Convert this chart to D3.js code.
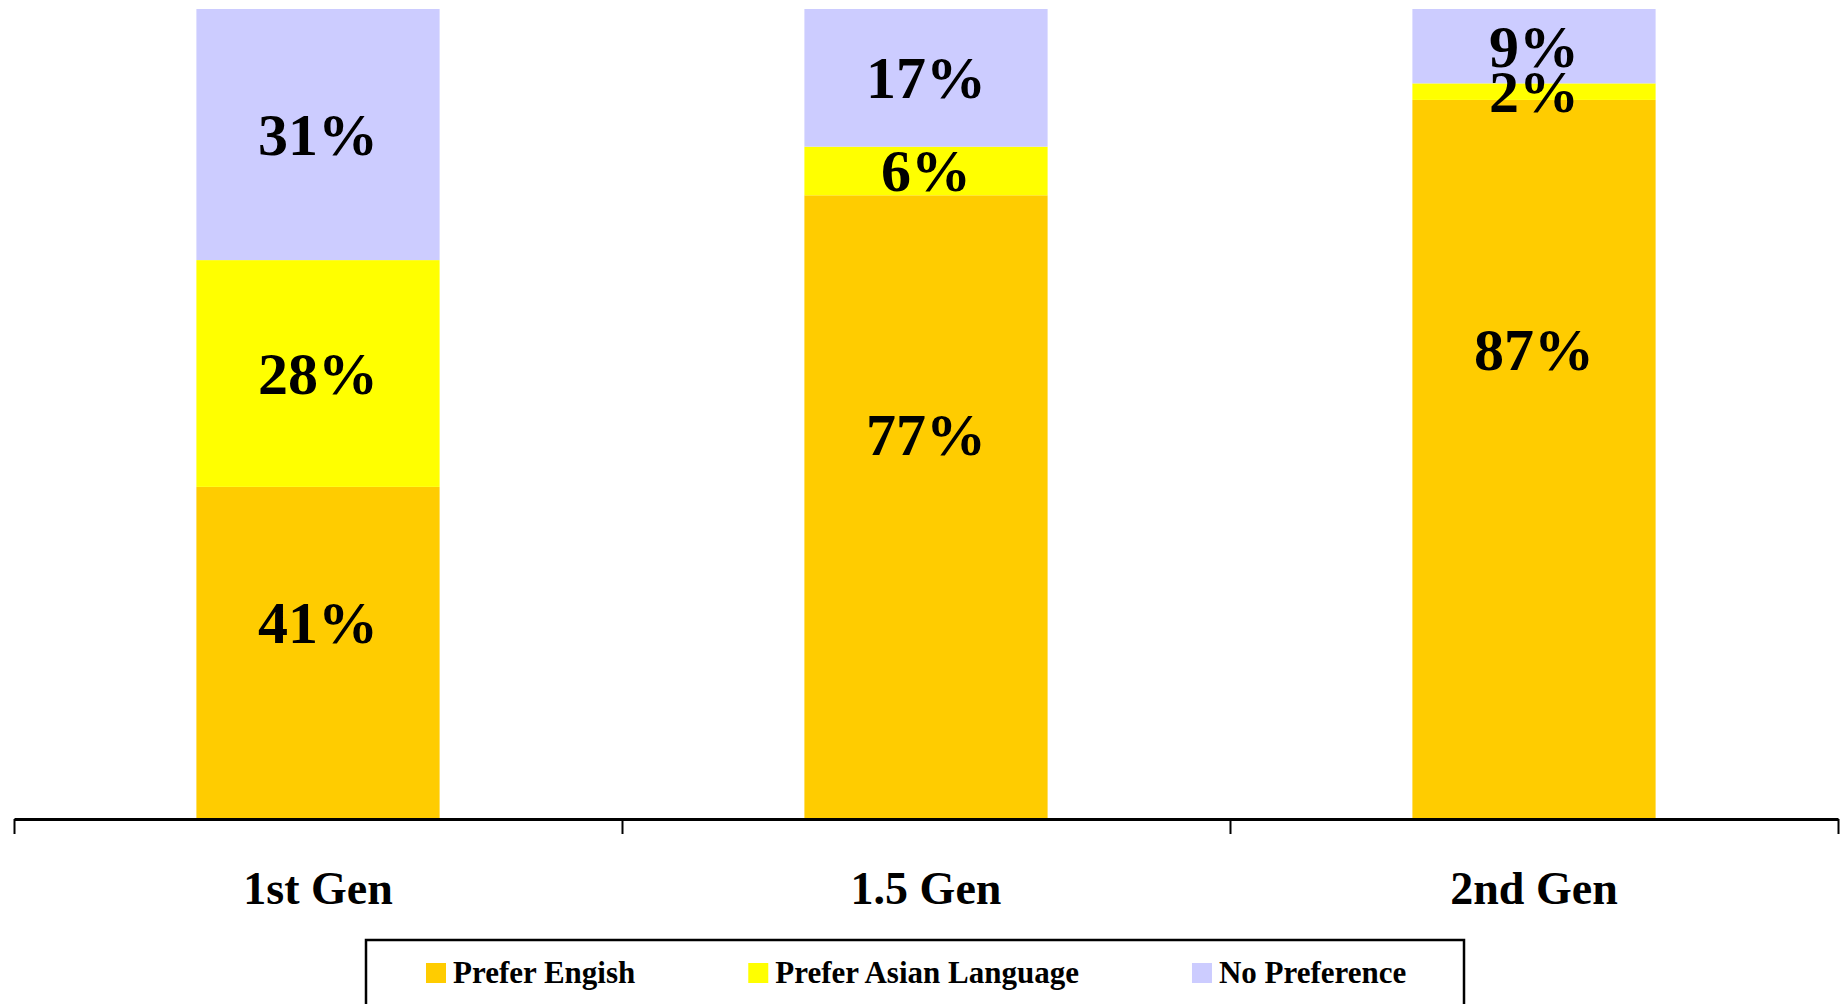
<!DOCTYPE html>
<html>
<head>
<meta charset="utf-8">
<script src="https://cdn.jsdelivr.net/npm/d3@7"></script>
<style>
  html, body { margin: 0; padding: 0; background: #fff; overflow: hidden; }
  svg { display: block; }
  text { font-family: "Liberation Serif", "Times New Roman", serif; font-weight: bold; fill: #000; }
</style>
</head>
<body>
<svg id="chart" width="1841" height="1004"></svg>
<script>
// Language preference by immigrant generation (100% stacked columns)
const categories = ["1st Gen", "1.5 Gen", "2nd Gen"];
const seriesNames = ["Prefer Engish", "Prefer Asian Language", "No Preference"];
const preferEnglish = [41, 77, 87];
const preferAsian = [28, 6, 2];
const noPreference = [31, 17, 9];
// where the "Prefer Engish" labels sit, as a share of each column's total
const englishLabelAt = [0.242, 0.475, 0.579];
const seriesColors = ["#FFCC00", "#FFFF00", "#CCCCFF"];

const svg = d3.select("#chart");
const W = 1841, H = 1004;
const left = 14, right = 1838, baseY = 819, topY = 9;

const rows = categories.map((c, i) => ({
  cat: c,
  [seriesNames[0]]: preferEnglish[i],
  [seriesNames[1]]: preferAsian[i],
  [seriesNames[2]]: noPreference[i]
}));

const stacked = d3.stack().keys(seriesNames).offset(d3.stackOffsetExpand)(rows);

const x = d3.scaleBand().domain(categories).range([left, right]).paddingInner(0).paddingOuter(0);
const barW = x.bandwidth() * 0.4;
const y = d3.scaleLinear().domain([0, 1]).range([baseY, topY]);
const color = d3.scaleOrdinal().domain(seriesNames).range(seriesColors);

// columns
const layers = svg.append("g").selectAll("g").data(stacked).join("g")
  .attr("fill", d => color(d.key));
layers.selectAll("rect").data(d => d).join("rect")
  .attr("x", d => x(d.data.cat) + (x.bandwidth() - barW) / 2)
  .attr("y", d => y(d[1]))
  .attr("width", barW)
  .attr("height", d => y(d[0]) - y(d[1]));

// value labels
const labelG = svg.append("g");
stacked.forEach((layer, si) => {
  layer.forEach((d, ci) => {
    const raw = d.data[layer.key];
    const at = si === 0 ? englishLabelAt[ci] : (d[0] + d[1]) / 2;
    labelG.append("text")
      .attr("x", x(d.data.cat) + x.bandwidth() / 2)
      .attr("y", y(at))
      .attr("dy", "0.34em")
      .attr("text-anchor", "middle")
      .style("font-size", "60px")
      .text(raw + "%");
  });
});

// category axis with ticks between groups
const xb = d3.scaleLinear().domain([0, categories.length]).range([left, right]);
const axis = svg.append("g")
  .attr("transform", `translate(0,${baseY})`)
  .call(d3.axisBottom(xb).tickValues(d3.range(categories.length + 1)).tickFormat("").tickSizeInner(15).tickSizeOuter(0));
axis.select(".domain").attr("stroke", "#000").attr("stroke-width", 3);
axis.selectAll(".tick line").attr("stroke", "#000").attr("stroke-width", 2);

svg.append("g").selectAll("text").data(categories).join("text")
  .attr("x", d => x(d) + x.bandwidth() / 2)
  .attr("y", 904)
  .attr("text-anchor", "middle")
  .style("font-size", "46px")
  .text(d => d);

// legend
const legend = svg.append("g");
legend.append("rect")
  .attr("x", 366).attr("y", 940).attr("width", 1098).attr("height", 120)
  .attr("fill", "#fff").attr("stroke", "#000").attr("stroke-width", 2.5);

let lx = 426;
seriesNames.forEach(name => {
  const item = legend.append("g");
  item.append("rect")
    .attr("x", lx).attr("y", 963).attr("width", 20).attr("height", 20)
    .attr("fill", color(name));
  const t = item.append("text")
    .attr("x", lx + 27).attr("y", 983)
    .style("font-size", "31px")
    .text(name);
  const w = t.node().getComputedTextLength();
  lx = lx + 27 + w + 113;
});
</script>
</body>
</html>
